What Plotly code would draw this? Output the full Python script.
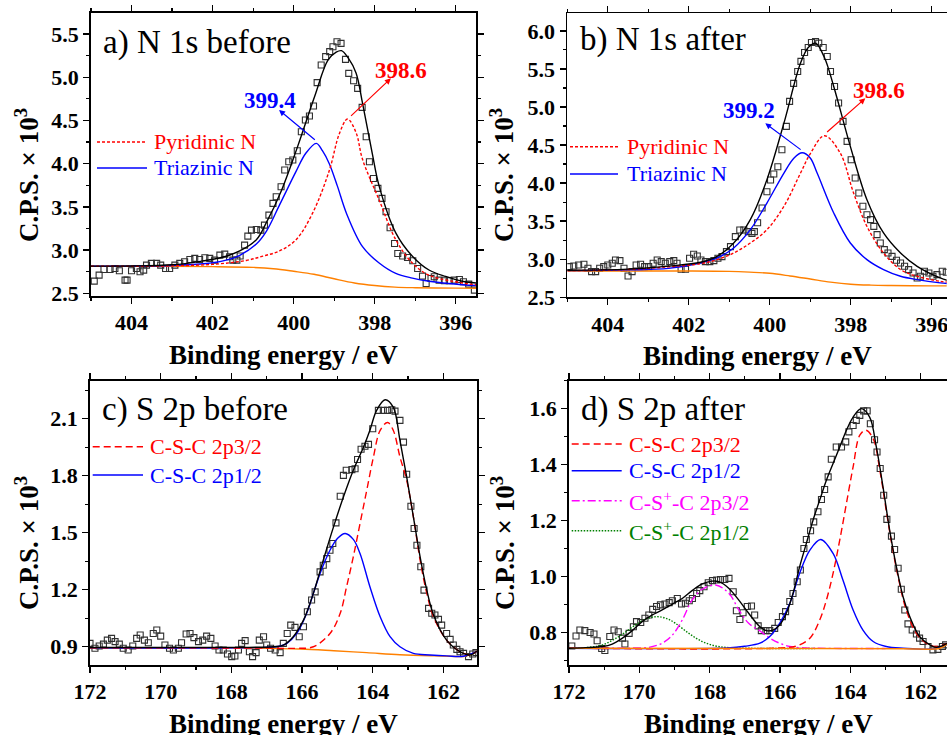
import plotly.graph_objects as go

W, H = 947, 735
FONT = "Liberation Serif"
RED, BLUE, ORANGE, MAGENTA, GREEN, BLACK = "#FF0000", "#0000FF", "#FF8000", "#FF00FF", "#008000", "#000000"

# ---------------- Panel a: N 1s before ----------------
a_E = [404.92, 404.80, 404.68, 404.53, 404.41, 404.30, 404.16, 404.11, 404.00, 403.88,
       403.79, 403.70, 403.63, 403.51, 403.38, 403.28, 403.16, 403.06, 402.93, 402.81,
       402.69, 402.56, 402.44, 402.32, 402.19, 402.07, 401.95, 401.82, 401.70, 401.58,
       401.50, 401.40, 401.32, 401.21, 401.13, 401.04, 400.92, 400.81, 400.72, 400.61,
       400.51, 400.43, 400.31, 400.22, 400.12, 400.02, 399.91, 399.81, 399.71, 399.61,
       399.51, 399.42, 399.32, 399.21, 399.11, 399.03, 398.93, 398.83, 398.72, 398.64,
       398.52, 398.42, 398.31, 398.21, 398.13, 398.03, 397.92, 397.82, 397.72, 397.62,
       397.51, 397.43, 397.31, 397.19, 397.06, 396.94, 396.82, 396.73, 396.61, 396.53,
       396.41, 396.28, 396.16, 396.04, 395.91, 395.81, 395.68, 395.54]
a_cps = [2.641, 2.711, 2.776, 2.776, 2.788, 2.761, 2.653, 2.653, 2.761, 2.788,
         2.749, 2.768, 2.826, 2.846, 2.846, 2.826, 2.788, 2.788, 2.826, 2.846,
         2.865, 2.892, 2.904, 2.892, 2.911, 2.904, 2.884, 2.942, 2.954, 2.923,
         2.884, 2.884, 2.931, 3.058, 3.162, 3.231, 3.239, 3.231, 3.289, 3.405,
         3.540, 3.617, 3.733, 3.926, 4.022, 4.042, 4.150, 4.370, 4.505, 4.551,
         4.667, 4.937, 5.141, 5.238, 5.296, 5.353, 5.411, 5.392, 5.207, 5.045,
         4.960, 4.871, 4.651, 4.312, 4.022, 3.829, 3.714, 3.598, 3.444, 3.259,
         3.077, 2.961, 2.931, 2.915, 2.877, 2.788, 2.699, 2.614, 2.672, 2.691,
         2.653, 2.645, 2.645, 2.653, 2.660, 2.633, 2.606, 2.537]
a_bg_E = [405.0, 404.0, 403.0, 402.0, 401.0, 400.5, 400.0, 399.5, 399.0, 398.5, 398.0, 397.5, 397.0, 396.0, 395.5]
a_bg = [2.812, 2.812, 2.812, 2.809, 2.800, 2.785, 2.755, 2.720, 2.668, 2.620, 2.590, 2.572, 2.565, 2.560, 2.558]
a_tri_E = [405.0, 404.0, 403.0, 402.15, 401.74, 401.33, 400.92, 400.67, 400.35, 399.94, 399.7, 399.44,
           399.29, 399.12, 398.92, 398.70, 398.30, 397.89, 397.48, 397.07, 396.66, 395.84, 395.5]
a_tri = [2.813, 2.815, 2.822, 2.845, 2.875, 2.94, 3.07, 3.22, 3.52, 3.91, 4.12, 4.235,
         4.15, 4.00, 3.74, 3.43, 3.04, 2.85, 2.73, 2.676, 2.64, 2.60, 2.59]
a_pyr_E = [405.0, 404.0, 403.0, 402.0, 401.17, 400.76, 400.35, 399.94, 399.53, 399.12, 398.87, 398.67,
           398.46, 398.30, 397.89, 397.48, 397.07, 396.66, 395.84, 395.5]
a_pyr = [2.813, 2.813, 2.818, 2.835, 2.88, 2.93, 2.99, 3.12, 3.43, 3.92, 4.35, 4.516,
         4.36, 4.05, 3.58, 3.12, 2.85, 2.71, 2.62, 2.60]
a_env_E = [405.0, 404.0, 403.0, 402.3, 401.74, 401.33, 400.92, 400.67, 400.3, 399.9, 399.48, 399.15,
           398.95, 398.82, 398.65, 398.46, 398.30, 398.06, 397.89, 397.48, 397.07, 396.66, 396.25, 395.84, 395.5]
a_env = [2.815, 2.816, 2.83, 2.87, 2.92, 2.99, 3.12, 3.32, 3.69, 4.20, 4.78, 5.20,
         5.29, 5.307, 5.22, 5.05, 4.70, 4.12, 3.74, 3.20, 2.93, 2.77, 2.695, 2.64, 2.62]

# ---------------- Panel b: N 1s after ----------------
b_E = [404.95, 404.84, 404.72, 404.59, 404.49, 404.40, 404.30, 404.20, 404.10, 404.00,
       403.89, 403.81, 403.70, 403.60, 403.50, 403.40, 403.30, 403.19, 403.09, 402.99,
       402.88, 402.78, 402.68, 402.58, 402.47, 402.37, 402.29, 402.19, 402.08, 401.98,
       401.88, 401.79, 401.70, 401.59, 401.48, 401.38, 401.28, 401.18, 401.07, 400.97,
       400.85, 400.74, 400.64, 400.53, 400.44, 400.38, 400.30, 400.19, 400.07, 399.98,
       399.90, 399.80, 399.70, 399.59, 399.51, 399.41, 399.31, 399.23, 399.14, 399.05,
       398.97, 398.87, 398.79, 398.68, 398.58, 398.50, 398.40, 398.30, 398.19, 398.09,
       397.99, 397.89, 397.80, 397.70, 397.60, 397.51, 397.43, 397.35, 397.27, 397.17,
       397.08, 396.98, 396.87, 396.77, 396.67, 396.57, 396.46, 396.36, 396.28, 396.18,
       396.07, 395.97, 395.87, 395.74, 395.64]
b_cps = [2.903, 2.912, 2.925, 2.934, 2.881, 2.837, 2.837, 2.881, 2.903, 2.925,
         2.947, 2.990, 2.982, 2.881, 2.780, 2.837, 2.925, 2.934, 2.903, 2.903,
         2.947, 2.990, 2.968, 2.947, 2.968, 2.982, 2.947, 2.868, 2.868, 3.012,
         3.065, 3.043, 2.990, 2.968, 2.968, 2.982, 3.012, 3.034, 3.100, 3.165,
         3.297, 3.384, 3.384, 3.362, 3.340, 3.362, 3.480, 3.673, 3.887, 4.040,
         4.119, 4.215, 4.438, 4.745, 5.073, 5.309, 5.466, 5.598, 5.716, 5.781,
         5.847, 5.860, 5.838, 5.781, 5.663, 5.466, 5.269, 5.051, 4.810, 4.548,
         4.307, 4.067, 3.870, 3.695, 3.585, 3.520, 3.432, 3.323, 3.213, 3.126,
         3.082, 3.038, 2.986, 2.951, 2.907, 2.863, 2.820, 2.754, 2.776, 2.842,
         2.820, 2.776, 2.798, 2.842, 2.829]
b_bg_E = [405.0, 402.0, 401.0, 400.5, 400.0, 399.5, 399.0, 398.5, 398.0, 397.5, 397.0, 396.0, 395.6]
b_bg = [2.845, 2.845, 2.840, 2.830, 2.815, 2.780, 2.740, 2.700, 2.672, 2.660, 2.655, 2.650, 2.650]
b_tri_E = [405.0, 403.5, 402.5, 401.71, 401.30, 400.89, 400.48, 400.07, 399.65, 399.40, 399.20, 399.0,
           398.83, 398.42, 398.01, 397.60, 397.19, 396.77, 396.36, 395.79, 395.6]
b_tri = [2.85, 2.86, 2.88, 2.951, 3.017, 3.148, 3.388, 3.738, 4.132, 4.33, 4.399, 4.33,
         4.132, 3.607, 3.213, 2.995, 2.864, 2.776, 2.732, 2.689, 2.68]
b_pyr_E = [405.0, 403.5, 402.5, 401.71, 401.30, 400.89, 400.48, 400.07, 399.65, 399.24, 398.99, 398.65,
           398.26, 397.93, 397.60, 397.19, 396.77, 396.36, 395.79, 395.6]
b_pyr = [2.85, 2.865, 2.90, 2.942, 2.995, 3.082, 3.213, 3.388, 3.695, 4.132, 4.395, 4.622,
         4.395, 3.870, 3.432, 3.082, 2.864, 2.776, 2.710, 2.70]
b_env_E = [405.0, 403.5, 402.5, 401.71, 401.30, 400.89, 400.48, 400.07, 399.65, 399.24, 399.05, 398.87,
           398.65, 398.42, 398.01, 397.60, 397.19, 396.77, 396.36, 395.79, 395.6]
b_env = [2.855, 2.87, 2.91, 2.96, 3.038, 3.213, 3.520, 4.045, 4.788, 5.576, 5.78, 5.838,
         5.65, 5.269, 4.482, 3.782, 3.345, 3.082, 2.907, 2.754, 2.72]

# ---------------- Panel c: S 2p before ----------------
c_E = [172.00, 171.86, 171.74, 171.62, 171.51, 171.39, 171.29, 171.17, 171.06, 170.92,
       170.79, 170.68, 170.58, 170.46, 170.35, 170.21, 170.11, 170.00, 169.88, 169.75,
       169.64, 169.50, 169.41, 169.28, 169.17, 169.06, 168.93, 168.81, 168.70, 168.58,
       168.46, 168.35, 168.23, 168.11, 167.99, 167.90, 167.80, 167.71, 167.61, 167.49,
       167.40, 167.30, 167.21, 167.09, 167.00, 166.89, 166.76, 166.62, 166.53, 166.42,
       166.32, 166.20, 166.08, 165.96, 165.85, 165.73, 165.63, 165.49, 165.40, 165.30,
       165.21, 165.13, 165.04, 164.92, 164.83, 164.75, 164.59, 164.50, 164.43, 164.33,
       164.22, 164.12, 164.00, 163.84, 163.70, 163.58, 163.46, 163.37, 163.23, 163.13,
       163.04, 162.92, 162.83, 162.75, 162.64, 162.55, 162.42, 162.33, 162.24, 162.14,
       162.05, 161.91, 161.81, 161.72, 161.62, 161.53, 161.43, 161.29, 161.17, 161.08]
c_cps = [0.918, 0.892, 0.904, 0.914, 0.935, 0.944, 0.927, 0.914, 0.892, 0.883,
         0.904, 0.944, 0.962, 0.935, 0.921, 0.970, 0.988, 0.956, 0.909, 0.892,
         0.883, 0.892, 0.921, 0.967, 0.970, 0.948, 0.927, 0.935, 0.956, 0.944,
         0.904, 0.883, 0.883, 0.862, 0.848, 0.851, 0.883, 0.918, 0.932, 0.874,
         0.848, 0.869, 0.935, 0.953, 0.909, 0.892, 0.883, 0.869, 0.918, 0.970,
         1.014, 1.002, 0.953, 1.005, 1.084, 1.146, 1.189, 1.294, 1.329, 1.364,
         1.408, 1.443, 1.552, 1.692, 1.802, 1.829, 1.832, 1.837, 1.885, 1.939,
         1.955, 1.965, 2.047, 2.144, 2.144, 2.144, 2.147, 2.140, 2.091, 1.977,
         1.808, 1.639, 1.522, 1.434, 1.321, 1.198, 1.102, 1.076, 1.067, 1.044,
         1.014, 0.970, 0.939, 0.909, 0.886, 0.874, 0.865, 0.848, 0.862, 0.869]
c_bg_E = [172.0, 168.0, 166.06, 165.1, 164.17, 163.23, 162.28, 161.8, 161.43, 161.25, 161.05]
c_bg = [0.895, 0.894, 0.888, 0.879, 0.869, 0.858, 0.852, 0.850, 0.849, 0.858, 0.875]
c_p12_E = [172.0, 167.0, 166.62, 166.43, 166.15, 165.87, 165.68, 165.49, 165.21, 165.0, 164.78, 164.55,
           164.36, 164.08, 163.79, 163.51, 163.23, 162.85, 162.38, 161.9, 161.43, 161.05]
c_p12 = [0.895, 0.897, 0.904, 0.918, 0.970, 1.076, 1.181, 1.286, 1.408, 1.47, 1.496, 1.465,
         1.391, 1.216, 1.058, 0.953, 0.900, 0.865, 0.857, 0.852, 0.850, 0.875]
c_p32_E = [172.0, 167.0, 166.15, 165.68, 165.21, 164.92, 164.74, 164.55, 164.36, 164.17, 163.98, 163.79,
           163.58, 163.42, 163.23, 163.04, 162.85, 162.66, 162.47, 162.28, 161.91, 161.53, 161.25, 161.05]
c_p32 = [0.895, 0.893, 0.892, 0.900, 0.970, 1.076, 1.216, 1.373, 1.548, 1.723, 1.899, 2.039,
         2.08, 2.039, 1.899, 1.776, 1.583, 1.356, 1.181, 1.058, 0.935, 0.874, 0.857, 0.878]
c_env_E = [172.0, 167.5, 166.8, 166.53, 166.25, 165.96, 165.68, 165.40, 165.11, 164.83, 164.55, 164.26,
           164.08, 163.89, 163.65, 163.42, 163.23, 163.04, 162.85, 162.66, 162.47, 162.28, 161.91, 161.53,
           161.25, 161.05]
c_env = [0.896, 0.897, 0.90, 0.909, 0.953, 1.040, 1.181, 1.356, 1.531, 1.688, 1.829, 1.951,
         2.039, 2.144, 2.20, 2.161, 1.986, 1.794, 1.583, 1.373, 1.198, 1.067, 0.935, 0.874,
         0.857, 0.878]

# ---------------- Panel d: S 2p after ----------------
d_E = [171.92, 171.80, 171.69, 171.55, 171.40, 171.29, 171.20, 171.07, 170.98, 170.84,
       170.72, 170.60, 170.48, 170.41, 170.29, 170.17, 170.08, 169.96, 169.84, 169.73,
       169.62, 169.51, 169.40, 169.27, 169.15, 169.06, 168.92, 168.80, 168.69, 168.58,
       168.49, 168.37, 168.28, 168.16, 168.04, 167.92, 167.80, 167.69, 167.57, 167.45,
       167.33, 167.24, 167.14, 167.05, 166.93, 166.81, 166.72, 166.62, 166.53, 166.40,
       166.29, 166.15, 166.05, 165.93, 165.84, 165.72, 165.63, 165.51, 165.42, 165.32,
       165.25, 165.13, 165.04, 164.92, 164.82, 164.73, 164.63, 164.54, 164.40, 164.25,
       164.13, 164.04, 163.92, 163.83, 163.73, 163.62, 163.52, 163.43, 163.31, 163.24,
       163.15, 163.05, 162.96, 162.83, 162.74, 162.64, 162.55, 162.45, 162.36, 162.24,
       162.12, 162.03, 161.93, 161.79, 161.65, 161.51, 161.38, 161.29]
d_cps = [0.751, 0.787, 0.808, 0.806, 0.799, 0.794, 0.770, 0.742, 0.735, 0.785,
         0.808, 0.802, 0.779, 0.758, 0.796, 0.820, 0.838, 0.835, 0.850, 0.862,
         0.882, 0.892, 0.898, 0.901, 0.906, 0.913, 0.921, 0.901, 0.904, 0.913,
         0.921, 0.939, 0.949, 0.963, 0.977, 0.985, 0.987, 0.989, 0.989, 0.993,
         0.945, 0.877, 0.846, 0.870, 0.892, 0.894, 0.862, 0.823, 0.806, 0.806,
         0.806, 0.814, 0.835, 0.856, 0.874, 0.910, 0.939, 0.981, 1.023, 1.100,
         1.132, 1.163, 1.195, 1.231, 1.275, 1.311, 1.356, 1.419, 1.463, 1.463,
         1.481, 1.517, 1.540, 1.558, 1.576, 1.592, 1.592, 1.546, 1.489, 1.445,
         1.386, 1.290, 1.204, 1.144, 1.096, 1.029, 0.954, 0.880, 0.830, 0.808,
         0.794, 0.779, 0.767, 0.749, 0.737, 0.739, 0.749, 0.755]
d_bg_E = [172.0, 165.0, 162.5, 161.6, 161.45, 161.25]
d_bg = [0.743, 0.742, 0.741, 0.740, 0.743, 0.757]
d_sp12_E = [172.0, 171.53, 171.05, 170.58, 170.11, 169.8, 169.49, 169.2, 168.97, 168.59, 168.21, 167.83, 167.45, 167.0, 165.0]
d_sp12 = [0.743, 0.745, 0.755, 0.785, 0.826, 0.848, 0.856, 0.848, 0.832, 0.796, 0.767, 0.751, 0.745, 0.743, 0.742]
d_sp32_E = [172.0, 170.5, 170.11, 169.73, 169.35, 169.06, 168.78, 168.50, 168.21, 167.83, 167.45, 167.17,
            166.89, 166.57, 166.29, 166.01, 165.72, 165.44, 165.0, 163.0]
d_sp32 = [0.743, 0.743, 0.744, 0.746, 0.761, 0.790, 0.844, 0.915, 0.954, 0.969, 0.939, 0.880,
          0.832, 0.805, 0.779, 0.761, 0.749, 0.745, 0.743, 0.742]
d_p12_E = [172.0, 167.5, 167.0, 166.57, 166.29, 166.01, 165.72, 165.44, 165.15, 164.84, 164.49, 164.21,
           163.92, 163.64, 163.35, 162.98, 162.5, 161.6, 161.25]
d_p12 = [0.743, 0.744, 0.750, 0.761, 0.785, 0.832, 0.904, 1.011, 1.094, 1.132, 1.082, 0.987,
         0.880, 0.808, 0.767, 0.749, 0.743, 0.741, 0.756]
d_p32_E = [172.0, 166.0, 165.53, 165.15, 164.87, 164.68, 164.49, 164.30, 164.11, 163.92, 163.73, 163.56,
           163.35, 163.16, 162.98, 162.79, 162.60, 162.41, 162.12, 161.84, 161.55, 161.25]
d_p32 = [0.743, 0.744, 0.751, 0.779, 0.844, 0.915, 1.011, 1.130, 1.261, 1.392, 1.505, 1.523,
         1.493, 1.380, 1.237, 1.094, 0.975, 0.880, 0.796, 0.761, 0.749, 0.760]
d_env_E = [172.0, 171.53, 171.05, 170.77, 170.48, 170.20, 169.92, 169.63, 169.35, 169.06, 168.78, 168.50,
           168.21, 167.93, 167.74, 167.45, 167.17, 166.89, 166.57, 166.38, 166.20, 166.01, 165.82, 165.63,
           165.44, 165.25, 165.06, 164.87, 164.68, 164.49, 164.30, 164.11, 163.92, 163.69, 163.45, 163.26,
           163.07, 162.88, 162.69, 162.50, 162.31, 162.03, 161.74, 161.55, 161.25]
d_env = [0.743, 0.745, 0.749, 0.758, 0.779, 0.806, 0.838, 0.862, 0.880, 0.901, 0.921, 0.949,
         0.973, 0.983, 0.981, 0.957, 0.915, 0.868, 0.820, 0.806, 0.808, 0.826, 0.868, 0.939,
         1.035, 1.118, 1.201, 1.273, 1.344, 1.404, 1.463, 1.523, 1.570, 1.600, 1.570, 1.463,
         1.320, 1.165, 1.035, 0.927, 0.856, 0.785, 0.755, 0.746, 0.760]

# ---------------- figure ----------------
fig = go.Figure()

DOT = "3px,2px"
DASH = "7px,4px"
DASHDOT = "8px,3px,2px,3px"
FINEDOT = "1.5px,1.5px"


def data_trace(E, v, ax):
    fig.add_trace(go.Scatter(x=E, y=v, mode="markers", xaxis=ax[0], yaxis=ax[1],
                             marker=dict(symbol="square-open", size=6, color="#303030",
                                         line=dict(width=1.1, color="#303030")),
                             showlegend=False, hoverinfo="skip"))


def curve(E, v, ax, color, dash="solid", width=1.4):
    fig.add_trace(go.Scatter(x=E, y=v, mode="lines", xaxis=ax[0], yaxis=ax[1],
                             line=dict(color=color, width=width, dash=dash, shape="spline", smoothing=1.0),
                             showlegend=False, hoverinfo="skip"))


A, B, C, D = ("x", "y"), ("x2", "y2"), ("x3", "y3"), ("x4", "y4")

data_trace(a_E, a_cps, A)
curve(a_bg_E, a_bg, A, ORANGE)
curve(a_tri_E, a_tri, A, BLUE)
curve(a_pyr_E, a_pyr, A, RED, DOT)
curve(a_env_E, a_env, A, BLACK)

data_trace(b_E, b_cps, B)
curve(b_bg_E, b_bg, B, ORANGE)
curve(b_tri_E, b_tri, B, BLUE)
curve(b_pyr_E, b_pyr, B, RED, DOT)
curve(b_env_E, b_env, B, BLACK)

data_trace(c_E, c_cps, C)
curve(c_bg_E, c_bg, C, ORANGE)
curve(c_p12_E, c_p12, C, BLUE)
curve(c_p32_E, c_p32, C, RED, DASH)
curve(c_env_E, c_env, C, BLACK)

data_trace(d_E, d_cps, D)
curve(d_sp12_E, d_sp12, D, GREEN, FINEDOT)
curve(d_sp32_E, d_sp32, D, MAGENTA, DASHDOT)
curve(d_p12_E, d_p12, D, BLUE)
curve(d_p32_E, d_p32, D, RED, DASH)
curve(d_bg_E, d_bg, D, ORANGE)
curve(d_env_E, d_env, D, BLACK)

TICKFONT = dict(family=FONT, size=22, color="black", weight="bold")


def xaxis(domain, rng, anchor, tick0):
    return dict(domain=domain, range=rng, anchor=anchor, showline=True, linecolor="black", linewidth=1.8,
                mirror="allticks", ticks="outside", ticklen=6, tickwidth=1.4, tickcolor="black",
                tick0=tick0, dtick=2, tickfont=TICKFONT, showgrid=False, zeroline=False, automargin=False,
                ticklabeloverflow="allow",
                minor=dict(dtick=1, tick0=tick0, ticks="outside", ticklen=3, tickwidth=1.2, tickcolor="black"))


def yaxis(domain, rng, anchor, tick0, dtick):
    return dict(domain=domain, range=rng, anchor=anchor, showline=True, linecolor="black", linewidth=1.8,
                mirror="allticks", ticks="outside", ticklen=6, tickwidth=1.4, tickcolor="black",
                tick0=tick0, dtick=dtick, tickformat=".1f", tickfont=TICKFONT, showgrid=False, zeroline=False,
                automargin=False,
                minor=dict(dtick=dtick / 2, tick0=tick0, ticks="outside", ticklen=3, tickwidth=1.2, tickcolor="black"))


def px_x(p):
    return p / W


def px_y(p):
    return 1 - p / H


fig.update_layout(
    width=W, height=H, margin=dict(l=0, r=0, t=0, b=0),
    paper_bgcolor="white", plot_bgcolor="white", showlegend=False,
    xaxis=xaxis([px_x(91), px_x(476)], [405.0, 395.5], "y", 396),
    yaxis=yaxis([px_y(296), px_y(13)], [2.469, 5.743], "x", 2.5, 0.5),
    xaxis2=xaxis([px_x(567.3), px_x(946.7)], [405.0, 395.63], "y2", 396),
    yaxis2=yaxis([px_y(297.3), px_y(13.3)], [2.5, 6.23], "x2", 2.5, 0.5),
    xaxis3=xaxis([px_x(90), px_x(477)], [172.0, 161.05], "y3", 162),
    yaxis3=yaxis([px_y(665), px_y(380.7)], [0.804, 2.30], "x3", 0.9, 0.3),
    xaxis4=xaxis([px_x(569), 1.0], [172.0, 161.25], "y4", 162),
    yaxis4=yaxis([px_y(665), px_y(380.7)], [0.683, 1.70], "x4", 0.8, 0.2),
)

ann = []
shapes = []


def text_px(x, y, text, size, color="black", bold=False, xanchor="center", angle=0):
    ann.append(dict(x=px_x(x), y=px_y(y), xref="paper", yref="paper", text=text, showarrow=False,
                    xanchor=xanchor, yanchor="middle", textangle=angle,
                    font=dict(family=FONT, size=size, color=color, weight="bold" if bold else "normal")))


# axis titles
XT = "Binding energy / eV"
YT = "C.P.S. × 10<sup>3</sup>"
for (x, y) in [(283, 355), (757, 356), (283, 724), (758, 724)]:
    text_px(x, y, XT, 27, bold=True)
for (x, y) in [(27, 175), (502, 175), (27, 543), (503, 543)]:
    text_px(x, y, YT, 27, bold=True, angle=-90)

# panel labels
text_px(101, 42, "a) N 1s before", 33, xanchor="left")
text_px(578, 40, "b) N 1s after", 33, xanchor="left")
text_px(100, 410, "c) S 2p before", 33, xanchor="left")
text_px(579, 410, "d) S 2p after", 33, xanchor="left")

# legends
legends = [
    (97, 147, 152, [(142, "Pyridinic N", RED, DOT), (168, "Triazinic N", BLUE, "solid")]),
    (570, 618, 625, [(146.7, "Pyridinic N", RED, DOT), (174, "Triazinic N", BLUE, "solid")]),
    (92.7, 143, 148, [(446.7, "C-S-C 2p3/2", RED, DASH), (475, "C-S-C 2p1/2", BLUE, "solid")]),
    (571.7, 621.7, 626.7, [(444, "C-S-C 2p3/2", RED, DASH), (470.7, "C-S-C 2p1/2", BLUE, "solid"),
                           (500.7, "C-S<sup>+</sup>-C 2p3/2", MAGENTA, DASHDOT),
                           (530.7, "C-S<sup>+</sup>-C 2p1/2", GREEN, FINEDOT)]),
]
for x0, x1, xt, items in legends:
    for (y, label, color, dash) in items:
        shapes.append(dict(type="line", xref="paper", yref="paper", x0=px_x(x0), x1=px_x(x1),
                           y0=px_y(y), y1=px_y(y), line=dict(color=color, width=1.4, dash=dash)))
        text_px(xt, y, label, 22, color=color, xanchor="left")

# peak annotations with arrows (data coordinates)
arrows = [
    ("x", "y", 399.44, 4.262, 400.36, 4.62, BLUE, "399.4", 400.59, 4.736),
    ("x", "y", 398.62, 4.536, 397.60, 4.987, RED, "398.6", 397.35, 5.083),
    ("x2", "y2", 399.20, 4.425, 400.11, 4.785, BLUE, "399.2", 400.52, 4.959),
    ("x2", "y2", 398.62, 4.654, 397.64, 5.113, RED, "398.6", 397.31, 5.222),
]
for xr, yr, tx, ty, hx, hy, color, label, lx, ly in arrows:
    ann.append(dict(x=hx, y=hy, ax=tx, ay=ty, xref=xr, yref=yr, axref=xr, ayref=yr, text="",
                    font=dict(family=FONT, size=10, color=color),
                    showarrow=True, arrowhead=2, arrowsize=1, arrowwidth=1.2, arrowcolor=color, standoff=0))
    ann.append(dict(x=lx, y=ly, xref=xr, yref=yr, text=label, showarrow=False,
                    font=dict(family=FONT, size=23, color=color, weight="bold")))

fig.update_layout(annotations=ann, shapes=shapes)
fig.write_html("out.html", config={"displayModeBar": False, "staticPlot": True},
               post_script="document.body.style.margin='0';document.body.style.overflow='hidden';")
